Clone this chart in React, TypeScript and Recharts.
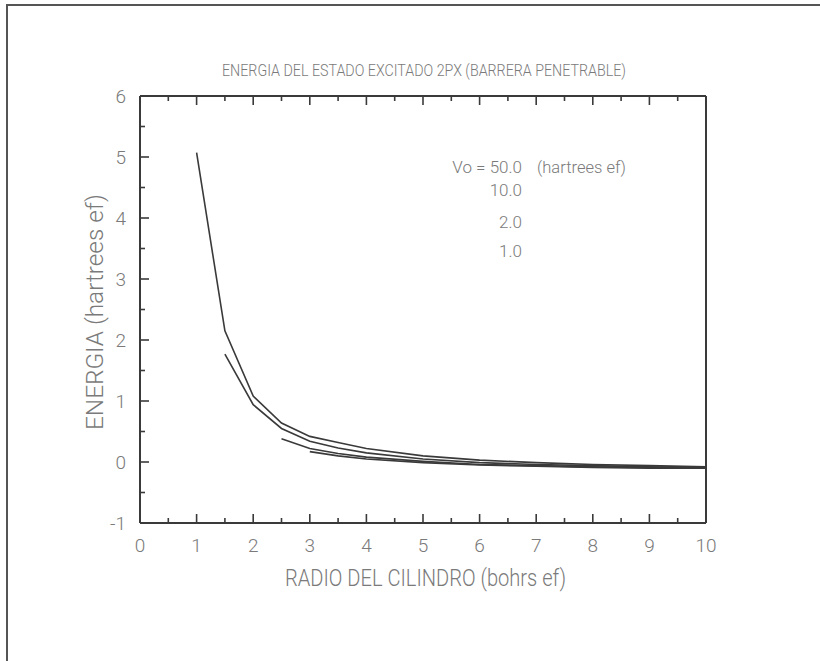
import React from 'react';
import { LineChart, Line, XAxis, YAxis } from 'recharts';

// Cylinder radius (bohrs ef) and 2px excited-state energy (hartrees ef) for each barrier height Vo
const radio = [1, 1.5, 2, 2.5, 3, 3.5, 4, 5, 6, 7, 8, 9, 10];
const vo50 = [5.07, 2.15, 1.08, 0.64, 0.42, 0.32, 0.22, 0.1, 0.03, -0.01, -0.04, -0.06, -0.08];
const vo10 = [null, 1.77, 0.94, 0.55, 0.34, 0.23, 0.15, 0.05, -0.01, -0.04, -0.06, -0.08, -0.09];
const vo2 = [null, null, null, 0.38, 0.22, 0.14, 0.08, 0.01, -0.04, -0.06, -0.08, -0.09, -0.1];
const vo1 = [null, null, null, null, 0.17, 0.1, 0.05, -0.01, -0.05, -0.07, -0.09, -0.1, -0.1];

const xTicks = [0, 0.5, 1, 1.5, 2, 2.5, 3, 3.5, 4, 4.5, 5, 5.5, 6, 6.5, 7, 7.5, 8, 8.5, 9, 9.5, 10];
const yTicks = [-1, -0.5, 0, 0.5, 1, 1.5, 2, 2.5, 3, 3.5, 4, 4.5, 5, 5.5, 6];

const legendValues = ['10.0', '2.0', '1.0'];

const rows = radio.map((r, i) => ({
  radio: r,
  vo50: vo50[i],
  vo10: vo10[i],
  vo2: vo2[i],
  vo1: vo1[i],
}));

const INK = '#3a3a3a';
const TEXT = '#7a7a7a';
const FONT = 'Roboto, "DejaVu Sans", sans-serif';

const isMajor = (v: number) => Number.isInteger(v);

const BottomTick = (props: any) => {
  const { x, y, payload } = props;
  const major = isMajor(payload.value);
  return (
    <g>
      <line x1={x} x2={x} y1={y} y2={y - (major ? 9 : 5)} stroke={INK} strokeWidth={1.6} />
      {major && (
        <text x={x} y={y + 29} textAnchor="middle" fontFamily={FONT} fontWeight={300} fontSize={19} fill={TEXT}>
          {payload.value}
        </text>
      )}
    </g>
  );
};

const TopTick = (props: any) => {
  const { x, y, payload } = props;
  const major = isMajor(payload.value);
  return <line x1={x} x2={x} y1={y} y2={y + (major ? 9 : 5)} stroke={INK} strokeWidth={1.6} />;
};

const LeftTick = (props: any) => {
  const { x, y, payload } = props;
  const major = isMajor(payload.value);
  return (
    <g>
      <line x1={x} x2={x + (major ? 9 : 5)} y1={y} y2={y} stroke={INK} strokeWidth={1.6} />
      {major && (
        <text x={x - 14} y={y + 7} textAnchor="end" fontFamily={FONT} fontWeight={300} fontSize={19} fill={TEXT}>
          {payload.value}
        </text>
      )}
    </g>
  );
};

const RightTick = (props: any) => {
  const { x, y, payload } = props;
  const major = isMajor(payload.value);
  return <line x1={x} x2={x - (major ? 9 : 5)} y1={y} y2={y} stroke={INK} strokeWidth={1.6} />;
};

const textStyle: React.CSSProperties = {
  fontFamily: FONT,
  fontWeight: 300,
  fill: TEXT,
};

export default function App() {
  return (
    <div style={{ position: 'absolute', left: 0, top: 0, width: 820, height: 661, background: '#fff', overflow: 'hidden' }}>
      {/* scanned page frame */}
      <div style={{ position: 'absolute', left: 6, top: 4, width: 900, height: 700, borderTop: '2px solid #555', borderLeft: '2px solid #555' }} />
      <div style={{ position: 'absolute', left: 0, top: 0 }}>
        <LineChart width={820} height={661} data={rows} margin={{ top: 86, right: 104, bottom: 98, left: 80 }}>
          <XAxis
            xAxisId="bottom"
            dataKey="radio"
            type="number"
            domain={[0, 10]}
            ticks={xTicks}
            interval={0}
            height={40}
            tickSize={0}
            tickMargin={0}
            tickLine={false}
            axisLine={{ stroke: INK, strokeWidth: 2 }}
            tick={<BottomTick />}
          />
          <XAxis
            xAxisId="top"
            orientation="top"
            dataKey="radio"
            type="number"
            domain={[0, 10]}
            ticks={xTicks}
            interval={0}
            height={10}
            tickSize={0}
            tickMargin={0}
            tickLine={false}
            axisLine={{ stroke: INK, strokeWidth: 2 }}
            tick={<TopTick />}
          />
          <YAxis
            yAxisId="left"
            type="number"
            domain={[-1, 6]}
            ticks={yTicks}
            interval={0}
            width={60}
            tickSize={0}
            tickMargin={0}
            tickLine={false}
            axisLine={{ stroke: INK, strokeWidth: 2 }}
            tick={<LeftTick />}
          />
          <YAxis
            yAxisId="right"
            orientation="right"
            type="number"
            domain={[-1, 6]}
            ticks={yTicks}
            interval={0}
            width={10}
            tickSize={0}
            tickMargin={0}
            tickLine={false}
            axisLine={{ stroke: INK, strokeWidth: 2 }}
            tick={<RightTick />}
          />
          <Line xAxisId="bottom" yAxisId="left" type="linear" dataKey="vo50" stroke={INK} strokeWidth={1.6} dot={false} isAnimationActive={false} />
          <Line xAxisId="bottom" yAxisId="left" type="linear" dataKey="vo10" stroke={INK} strokeWidth={1.6} dot={false} isAnimationActive={false} />
          <Line xAxisId="bottom" yAxisId="left" type="linear" dataKey="vo2" stroke={INK} strokeWidth={1.6} dot={false} isAnimationActive={false} />
          <Line xAxisId="bottom" yAxisId="left" type="linear" dataKey="vo1" stroke={INK} strokeWidth={1.6} dot={false} isAnimationActive={false} />
        </LineChart>
      </div>
      <svg width={820} height={661} style={{ position: 'absolute', left: 0, top: 0, pointerEvents: 'none' }}>
        <text x={222} y={76} fontSize={16} textLength={404} lengthAdjust="spacingAndGlyphs" style={textStyle}>
          ENERGIA DEL ESTADO EXCITADO 2PX (BARRERA PENETRABLE)
        </text>
        <text x={285} y={586} fontSize={24} textLength={281} lengthAdjust="spacingAndGlyphs" style={textStyle}>
          RADIO DEL CILINDRO (bohrs ef)
        </text>
        <text
          x={0}
          y={0}
          fontSize={23}
          textLength={236}
          lengthAdjust="spacingAndGlyphs"
          transform="translate(103 430) rotate(-90)"
          style={textStyle}
        >
          ENERGIA (hartrees ef)
        </text>
        <text x={522} y={173} fontSize={17} textAnchor="end" style={textStyle}>
          Vo = 50.0
        </text>
        <text x={537} y={173} fontSize={17} textLength={89} lengthAdjust="spacingAndGlyphs" style={textStyle}>
          (hartrees ef)
        </text>
        {legendValues.map((v, i) => (
          <text key={v} x={522} y={[196, 228, 257][i]} fontSize={17} textAnchor="end" style={textStyle}>
            {v}
          </text>
        ))}
      </svg>
    </div>
  );
}
